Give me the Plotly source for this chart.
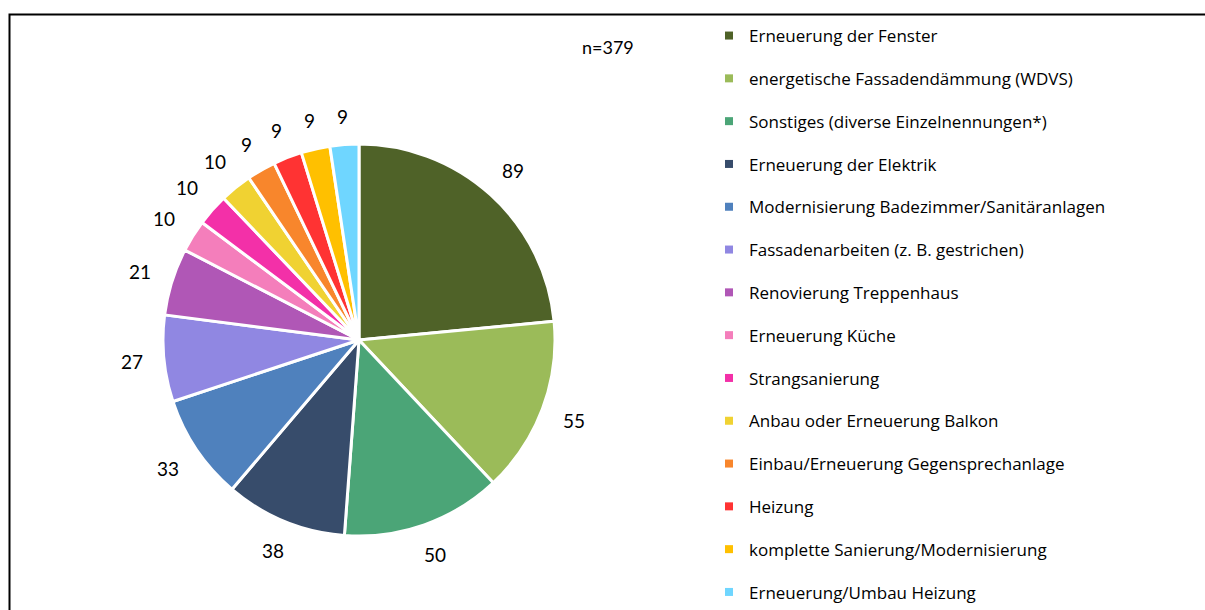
import math
import plotly.graph_objects as go

labels = [
    "Erneuerung der Fenster",
    "energetische Fassadendämmung (WDVS)",
    "Sonstiges (diverse Einzelnennungen*)",
    "Erneuerung der Elektrik",
    "Modernisierung Badezimmer/Sanitäranlagen",
    "Fassadenarbeiten (z. B. gestrichen)",
    "Renovierung Treppenhaus",
    "Erneuerung Küche",
    "Strangsanierung",
    "Anbau oder Erneuerung Balkon",
    "Einbau/Erneuerung Gegensprechanlage",
    "Heizung",
    "komplette Sanierung/Modernisierung",
    "Erneuerung/Umbau Heizung",
]
values = [89, 55, 50, 38, 33, 27, 21, 10, 10, 10, 9, 9, 9, 9]
colors = [
    "#4F6228", "#9BBB59", "#4BA577", "#374C6B", "#4F81BD", "#9087E2", "#B057B6",
    "#F47EBB", "#F330A8", "#F0D232", "#F8862C", "#FF3333", "#FFC000", "#6FD6FF",
]
n_text = "n=379"

NUM_FONT = "Lato"
LEG_FONT = "Open Sans"
W, H = 1205, 610
cx, cy, r = 359, 340, 196
label_base = 217  # distance from centre to the label box edge

fig = go.Figure()
fig.add_trace(go.Pie(
    labels=labels, values=values, sort=False, direction="clockwise", rotation=0,
    marker=dict(colors=colors, line=dict(color="white", width=3)),
    textinfo="none", showlegend=False,
    domain=dict(x=[(cx - r) / W, (cx + r) / W], y=[1 - (cy + r) / H, 1 - (cy - r) / H]),
))

# value labels placed radially outside each slice (angles derived from the values)
total = sum(values)
cum = 0
for v in values:
    ang = (cum + v / 2) / total * 2 * math.pi
    cum += v
    s, c = math.sin(ang), math.cos(ang)
    half_w, half_h = 5.3 * len(str(v)), 7
    d = label_base + half_w * abs(s) + half_h * abs(c)
    px = cx + d * s
    py = cy - d * c
    fig.add_annotation(text=str(v), x=px / W, y=1 - py / H, xref="paper", yref="paper",
                       showarrow=False, xanchor="center", yanchor="middle",
                       font=dict(family=NUM_FONT, size=19, color="#000000"))

# legend entries (one per slice, same colours)
for i, (lab, col) in enumerate(zip(labels, colors)):
    fig.add_trace(go.Scatter(
        x=[None], y=[None], mode="markers", name=lab, legendgroup=str(i),
        marker=dict(symbol="square", size=8, color=col),
        showlegend=True, hoverinfo="skip",
    ))

fig.add_annotation(text=n_text, x=608 / W, y=1 - 47 / H, xref="paper", yref="paper",
                   showarrow=False, xanchor="center", yanchor="middle",
                   font=dict(family=NUM_FONT, size=18, color="#000000"))

fig.add_shape(type="rect", xref="paper", yref="paper", x0=9.5 / W, x1=1.02,
              y0=-0.02, y1=1 - 14.5 / H, line=dict(color="#000000", width=2))

fig.update_layout(
    width=W, height=H, margin=dict(l=0, r=0, t=0, b=0),
    paper_bgcolor="white", plot_bgcolor="white",
    xaxis=dict(visible=False), yaxis=dict(visible=False),
    legend=dict(x=(749 - 40) / W, y=1 - 19 / H, xanchor="left", yanchor="top",
                font=dict(family=LEG_FONT, size=17, color="#000000"),
                tracegroupgap=17.7, bgcolor="rgba(0,0,0,0)"),
)
fig.write_html(
    "out.html",
    config={"displayModeBar": False},
    post_script="document.body.style.margin='0';document.body.style.overflow='hidden';",
)
